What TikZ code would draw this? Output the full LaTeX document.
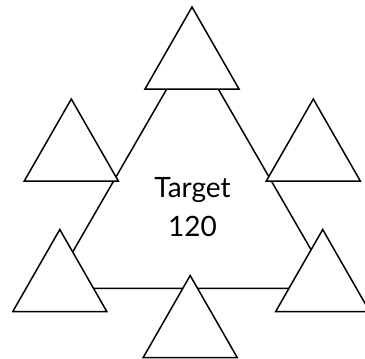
\documentclass[tikz,border=0pt]{standalone}
\usepackage{fontspec}
\setmainfont{Lato}
\begin{document}
\begin{tikzpicture}[x=1pt,y=-1pt,
  edge/.style={line width=1.5pt,black},
  tri/.style={line width=1.5pt,black,fill=white}]
\useasboundingbox (0,0) rectangle (365,359);
\coordinate (A) at (192.5,44.4);
\coordinate (B) at (51.7,288.3);
\coordinate (C) at (333.3,288.3);
\draw[edge] (A) -- (B) -- (C) -- cycle;
\coordinate (t1) at (192,7);
\coordinate (t2) at (71.3,99);
\coordinate (t3) at (313.3,99);
\coordinate (t4) at (59.8,229.5);
\coordinate (t5) at (322.7,229.5);
\coordinate (t6) at (190.2,275.5);
\foreach \t in {t1,t2,t3,t4,t5,t6}
  \draw[tri] (\t) -- ++(-47,82) -- ++(94,0) -- cycle;
\node[font=\fontsize{28}{39}\selectfont,align=center,inner sep=0pt] (lbl) at (192.5,207.5) {Target\\120};
\end{tikzpicture}
\end{document}
